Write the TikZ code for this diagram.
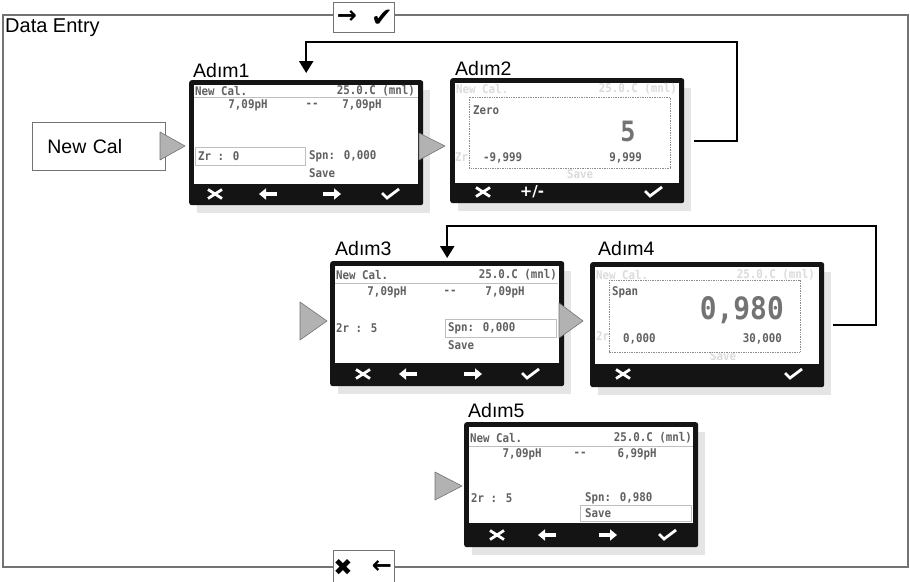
\documentclass[tikz,border=0pt]{standalone}
\usepackage{fontspec}
\setmainfont{Liberation Sans}
\newfontfamily\lcd{DejaVu Sans Mono}[FakeStretch=0.9]
\newfontfamily\sym{DejaVu Sans}
\usetikzlibrary{arrows.meta,calc}
\newcommand\lcdscreen[4]{%
  \fill[shadowfill] (#2+8,#3+10) rectangle (#2+241,#3+133);
  \node[scr] (#1) at (#2,#3) {};
  \fill[white] (#2+5,#3+5) rectangle (#2+229,#4);
}
\begin{document}
\begin{tikzpicture}[x=1pt,y=-1pt,
  frameline/.style={draw=black!55, line width=1.1pt},
  keybox/.style={draw=black!55, line width=1pt, fill=white, inner sep=0, anchor=north west},
  keysym/.style={font=\sym\bfseries\fontsize{24}{24}\selectfont, inner sep=0},
  keysymr/.style={font=\sym\fontsize{26}{26}\selectfont, inner sep=0},
  lbl/.style={font=\fontsize{19.5}{19.5}\selectfont, anchor=base west, inner sep=0},
  scr/.style={fill=black!92, rounded corners=2.5pt, minimum width=234pt, minimum height=125pt, inner sep=0, anchor=north west},
  shadowfill/.style={fill=black!10},
  lt/.style={font=\lcd\bfseries\fontsize{12}{12}\selectfont, text=black!62, inner sep=0},
  ft/.style={lt, text=black!14},
  big/.style={font=\lcd\bfseries\fontsize{28}{28}\selectfont, text=black!55, inner sep=0},
  hl/.style={draw=black!25, line width=0.6pt},
  dbox/.style={draw=black!45, densely dotted, line width=0.7pt, fill=white},
  tri/.style={fill=black!30, draw=black!55, line width=0.6pt, line join=round},
  fb/.style={draw=black, line width=2.4pt, -{Triangle[length=12pt,width=14pt]}},
  ic/.style={draw=white, line width=2.8pt},
  xmark/.pic={\draw[ic] (-7,-4.5) -- (7,4.5) (-7,4.5) -- (7,-4.5);},
  larr/.pic={\draw[ic, line width=3.2pt, -{Triangle[length=7pt,width=11pt]}] (9,0) -- (-9,0);},
  rarr/.pic={\draw[ic, line width=3.2pt, -{Triangle[length=7pt,width=11pt]}] (-9,0) -- (9,0);},
  chk/.pic={\draw[ic, line width=2.8pt] (-8,-1) -- (-3,4) -- (9,-5);},
  plusminus/.style={font=\sym\bfseries\fontsize{15}{15}\selectfont, text=white, inner sep=0}
]
\useasboundingbox (0,0) rectangle (910,581);
\clip (0,0) rectangle (910,581);
\fill[white] (0,0) rectangle (910,581);

% outer frame
\draw[frameline] (3,15) rectangle (908,567);
\node[lbl, font=\fontsize{20}{20}\selectfont] (title) at (5,32) {Data Entry};

% key boxes
\node[keybox, minimum width=61pt, minimum height=30pt] (okbox) at (333,2) {};
\node[keysym] (okarr) at (347,17) {→};
\node[keysymr] (okchk) at (382,18) {✔};
\node[keybox, minimum width=61pt, minimum height=40pt] (escbox) at (333,550) {};
\node[keysymr, font=\sym\fontsize{23}{23}\selectfont] (escx) at (343,567) {✖};
\node[keysym] (escarr) at (382,567) {←};

% New Cal box
\node[draw=black!55, line width=0.8pt, minimum width=133pt, minimum height=48pt,
      text width=103pt, inner xsep=15pt, inner ysep=0pt, align=left, anchor=north west,
      font=\fontsize{19.5}{19.5}\selectfont] (nc) at (32,122) {New Cal};

% ---------- screens ----------
\lcdscreen{a1}{189}{80}{184}
\lcdscreen{a2}{450}{78}{183}
\lcdscreen{a3}{330}{261}{363}
\lcdscreen{a4}{590}{262}{364}
\lcdscreen{a5}{464}{422}{523}

% labels
\node[lbl] (l1) at (193,77) {Adım1};
\node[lbl] (l2) at (455,75) {Adım2};
\node[lbl] (l3) at (335,255) {Adım3};
\node[lbl] (l4) at (598,255) {Adım4};
\node[lbl] (l5) at (468,417) {Adım5};

% Adim1
\draw[hl] (194,97) -- (418,97);
\node[lt, anchor=west] (a1h1) at (195,91) {New Cal.};
\node[lt, anchor=east] (a1h2) at (415,91) {25.0.C (mnl)};
\node[lt] (a1p1) at (248,105) {7,09pH};
\node[lt] (a1d) at (312,105) {--};
\node[lt] (a1p2) at (362,105) {7,09pH};
\draw[hl] (195,147) rectangle (305,165);
\node[lt, anchor=west] (a1z) at (198,156) {Zr : 0};
\node[lt, anchor=west] (a1s) at (309,156) {Spn: 0,000};
\node[lt, anchor=west] (a1v) at (309,173) {Save};
\pic at (215,194) {xmark};
\pic at (268,194) {larr};
\pic at (332,194) {rarr};
\pic at (390,194) {chk};

% Adim2
\node[ft, anchor=west] (a2f1) at (456,89) {New Cal.};
\node[ft, anchor=east] (a2f2) at (677,89) {25.0.C (mnl)};
\node[ft, anchor=west] (a2f3) at (455,157) {Zr};
\node[ft, anchor=west] (a2f4) at (567,174) {Save};
\draw[dbox] (469,97) rectangle (670,168);
\node[lt, anchor=west] (a2z) at (473,110) {Zero};
\node[big] (a2n) at (628,131) {5};
\node[lt, anchor=west] (a2lo) at (483,158) {-9,999};
\node[lt, anchor=east] (a2hi) at (642,158) {9,999};
\pic at (483,192) {xmark};
\node[plusminus] (a2pm) at (532,192) {+/-};
\pic at (653,192) {chk};

% Adim3
\draw[hl] (335,283) -- (558,283);
\node[lt, anchor=west] (a3h1) at (336,275) {New Cal.};
\node[lt, anchor=east] (a3h2) at (557,275) {25.0.C (mnl)};
\node[lt] (a3p1) at (387,292) {7,09pH};
\node[lt] (a3d) at (450,292) {--};
\node[lt] (a3p2) at (505,292) {7,09pH};
\node[lt, anchor=west] (a3z) at (336,328) {2r : 5};
\draw[hl] (445,319) rectangle (556,337);
\node[lt, anchor=west] (a3s) at (448,328) {Spn: 0,000};
\node[lt, anchor=west] (a3v) at (448,345) {Save};
\pic at (363,374) {xmark};
\pic at (408,374) {larr};
\pic at (473,374) {rarr};
\pic at (530,374) {chk};

% Adim4
\node[ft, anchor=west] (a4f1) at (596,275) {New Cal.};
\node[ft, anchor=east] (a4f2) at (815,275) {25.0.C (mnl)};
\node[ft, anchor=west] (a4f3) at (596,336) {2r};
\node[ft, anchor=west] (a4f4) at (710,356) {Save};
\draw[dbox] (609,280) rectangle (800,352);
\node[lt, anchor=west] (a4sp) at (612,292) {Span};
\node[big, font=\lcd\bfseries\fontsize{31}{31}\selectfont, anchor=east] (a4n) at (784,310) {0,980};
\node[lt, anchor=west] (a4lo) at (623,339) {0,000};
\node[lt, anchor=east] (a4hi) at (782,339) {30,000};
\pic at (623,374) {xmark};
\pic at (793,374) {chk};

% Adim5
\draw[hl] (469,446) -- (693,446);
\node[lt, anchor=west] (a5h1) at (470,438) {New Cal.};
\node[lt, anchor=east] (a5h2) at (692,438) {25.0.C (mnl)};
\node[lt] (a5p1) at (522,454) {7,09pH};
\node[lt] (a5d) at (580,454) {--};
\node[lt] (a5p2) at (637,454) {6,99pH};
\node[lt, anchor=west] (a5z) at (471,498) {2r : 5};
\node[lt, anchor=west] (a5s) at (585,498) {Spn: 0,980};
\draw[hl] (580,505) rectangle (691,521);
\node[lt, anchor=west] (a5v) at (585,513) {Save};
\pic at (497,535) {xmark};
\pic at (547,535) {larr};
\pic at (608,535) {rarr};
\pic at (667,535) {chk};

% gray triangles
\filldraw[tri] (160,132) -- (185,146) -- (160,160) -- cycle;
\filldraw[tri] (419,133) -- (445,146) -- (419,160) -- cycle;
\filldraw[tri] (300,302) -- (327,321) -- (300,340) -- cycle;
\filldraw[tri] (559,303) -- (583,321) -- (559,338) -- cycle;
\filldraw[tri] (435,472) -- (462,486) -- (435,500) -- cycle;

% feedback connectors
\coordinate (k1) at (737,42);
\draw[fb, shorten >=7pt] ([xshift=10pt]a2.east) -| (k1) -| (a1.north);
\coordinate (k2) at (876,226);
\draw[fb, shorten >=3pt] ([xshift=9pt]a4.east) -| (k2) -| (a3.north);
\end{tikzpicture}
\end{document}
